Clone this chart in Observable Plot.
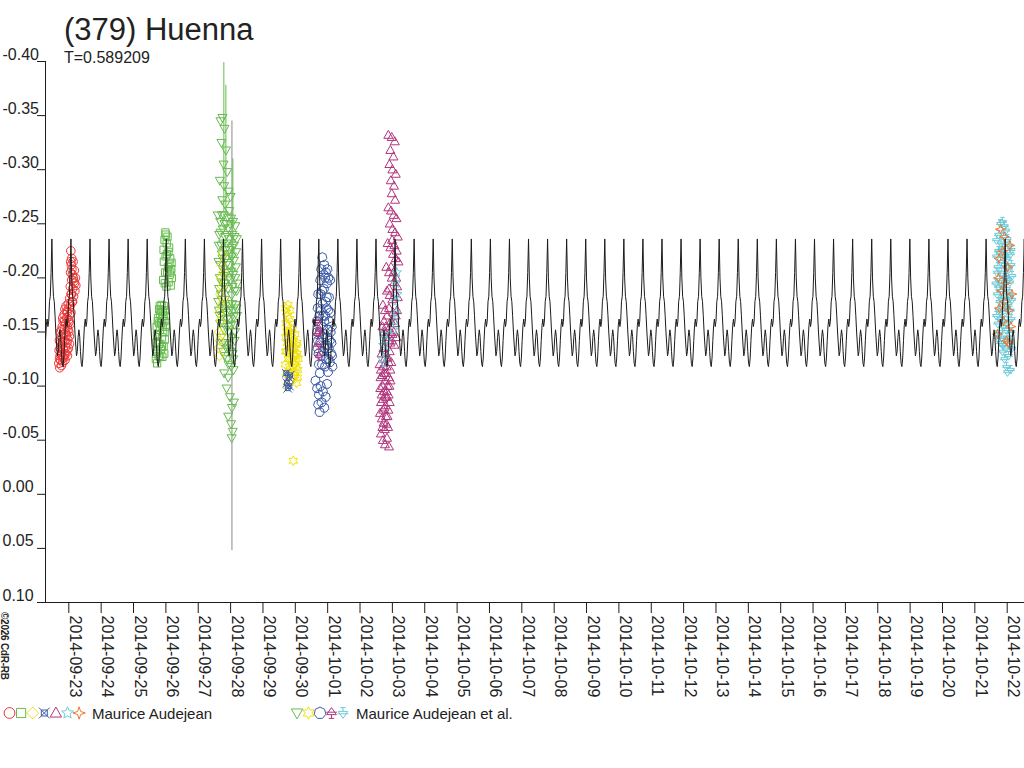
<!DOCTYPE html>
<html><head><meta charset="utf-8">
<script src="https://cdn.jsdelivr.net/npm/d3@7"></script>
<script src="https://cdn.jsdelivr.net/npm/@observablehq/plot@0.6"></script>
<style>
body{margin:0;background:#fff;}
#wrap{position:relative;width:1024px;height:768px;overflow:hidden;font-family:"Liberation Sans",Arial,sans-serif;background:#fff;}
#wrap svg{position:absolute;left:0;top:0;}
</style></head><body><div id="wrap"></div>
<script>
// ---------------- data ----------------
const title = "(379) Huenna";
const subtitle = "T=0.589209";
const copyright = "©2026 CdR-RB";
const periodDays = 0.589209;
const maxEpoch = "2014-10-04T06:16:00Z";           // a maximum of the model light curve
// one period of the model curve (24 equal phase steps, starting at the maximum)
const modelMag = [-0.236,-0.200,-0.183,-0.178,-0.165,-0.150,-0.138,-0.128,-0.132,-0.145,-0.152,-0.146,
                  -0.132,-0.121,-0.118,-0.126,-0.142,-0.156,-0.162,-0.155,-0.160,-0.178,-0.183,-0.205];
const xDomain = ["2014-09-22T06:43:00Z", "2014-10-22T12:50:00Z"];
const yDomain = [-0.40, 0.10];
const yTicks = [-0.40,-0.35,-0.30,-0.25,-0.20,-0.15,-0.10,-0.05,0.00,0.05,0.10];
const xTickLabels = ["2014-09-23","2014-09-24","2014-09-25","2014-09-26","2014-09-27","2014-09-28","2014-09-29",
  "2014-09-30","2014-10-01","2014-10-02","2014-10-03","2014-10-04","2014-10-05","2014-10-06","2014-10-07",
  "2014-10-08","2014-10-09","2014-10-10","2014-10-11","2014-10-12","2014-10-13","2014-10-14","2014-10-15",
  "2014-10-16","2014-10-17","2014-10-18","2014-10-19","2014-10-20","2014-10-21","2014-10-22"];
const observers = ["Maurice Audejean", "Maurice Audejean et al."];

// sessions: [hours after base, relative magnitude]
const audejean1Base = "2014-09-22T16:00:00Z";
const audejean1 = [[0.6,-0.121],[0.8,-0.133],[1.0,-0.142],[1.3,-0.117],[1.5,-0.128],[1.7,-0.150],[2.0,-0.124],[2.2,-0.137],
  [2.4,-0.146],[2.6,-0.119],[2.9,-0.131],[3.1,-0.155],[3.3,-0.140],[3.6,-0.127],[3.8,-0.160],[4.0,-0.134],[4.2,-0.148],
  [4.5,-0.166],[4.7,-0.129],[4.9,-0.153],[5.1,-0.171],[5.3,-0.142],[5.6,-0.136],[5.8,-0.158],[6.0,-0.174],[6.2,-0.147],
  [6.5,-0.163],[6.7,-0.133],[6.9,-0.155],[7.1,-0.168],[7.3,-0.143],[7.6,-0.176],[7.8,-0.161],[8.0,-0.150],[8.2,-0.172],
  [8.5,-0.139],[8.7,-0.181],[8.9,-0.157],[9.1,-0.192],[9.3,-0.205],[9.5,-0.225],[9.7,-0.185],[9.9,-0.212],[10.1,-0.198],
  [10.4,-0.178],[10.6,-0.203],[10.9,-0.190],[11.2,-0.215],[11.5,-0.183],[11.8,-0.197],[12.1,-0.207],[12.5,-0.188],
  [12.9,-0.200],[13.2,-0.193],
  [1.1,-0.125],[1.9,-0.140],[2.7,-0.152],[3.4,-0.122],[3.5,-0.163],[4.1,-0.126],[4.4,-0.141],[4.8,-0.160],[5.2,-0.124],
  [5.5,-0.149],[5.9,-0.130],[6.3,-0.169],[6.6,-0.140],[7.0,-0.128],[7.4,-0.152],[7.7,-0.135],[8.1,-0.159],[8.4,-0.146],
  [8.8,-0.166],[9.2,-0.175],[9.6,-0.168],[10.0,-0.185],[10.3,-0.208],[10.8,-0.178],[11.4,-0.200],[12.3,-0.195],
  [9.4,-0.215],[10.2,-0.218],[1.6,-0.135],[2.3,-0.129]];
const audejean2Base = "2014-09-25T16:00:00Z";
const audejean2 = [[0.6,-0.125],[0.9,-0.140],[1.2,-0.155],[1.5,-0.121],[1.8,-0.132],[2.1,-0.148],[2.4,-0.163],[2.7,-0.128],
  [3.0,-0.171],[3.3,-0.139],[3.6,-0.152],[3.9,-0.166],[4.2,-0.134],[4.5,-0.158],[4.8,-0.175],[5.1,-0.145],[5.4,-0.127],
  [5.7,-0.169],[6.0,-0.150],[6.3,-0.137],[6.6,-0.174],[6.9,-0.160],[7.2,-0.143],[7.5,-0.170],[7.8,-0.155],
  [0.8,-0.130],[1.4,-0.147],[2.0,-0.160],[2.6,-0.139],[3.2,-0.158],[3.8,-0.127],[4.4,-0.170],[5.0,-0.136],[5.6,-0.155],
  [6.2,-0.165],[6.8,-0.130],[7.4,-0.150],[7.9,-0.165],[3.5,-0.174],[5.3,-0.162],
  [6.0,-0.198],[6.5,-0.215],[7.0,-0.235],[7.5,-0.205],[8.0,-0.240],[8.4,-0.192],[8.8,-0.222],[9.2,-0.238],[9.6,-0.210],
  [10.0,-0.196],[10.4,-0.228],[10.8,-0.203],[11.2,-0.218],[11.6,-0.193],[12.0,-0.208],[12.4,-0.200],
  [6.3,-0.226],[7.2,-0.195],[7.8,-0.220],[8.6,-0.232],[9.0,-0.205],[9.9,-0.224],[10.6,-0.213],[11.4,-0.205],
  [12.2,-0.214],[7.6,-0.242]];
const audejean3Base = "2014-09-27T12:00:00Z";
const audejean3 = [[3.1,-0.135],[3.4,-0.150],[3.7,-0.168],[4.0,-0.142],[4.3,-0.185],[4.6,-0.160],[4.9,-0.200],[5.2,-0.175],
  [5.5,-0.212],[5.8,-0.192],[6.1,-0.222],[6.4,-0.205],[6.7,-0.180],[3.6,-0.128],[5.0,-0.147]];
const audejean4Base = "2014-09-29T12:00:00Z";
const audejean4 = [[5.3,-0.112],[5.8,-0.103],[6.4,-0.098],[7.0,-0.108],[7.6,-0.100],[8.2,-0.110]];
const audejean5Base = "2014-10-02T12:00:00Z";
const audejean5 = [[9.0,-0.332],[11.5,-0.330],[13.8,-0.326],[10.5,-0.318],[12.8,-0.312],[9.8,-0.305],[12.0,-0.300],
  [14.5,-0.296],[10.8,-0.290],[13.2,-0.285],[11.5,-0.278],[14.0,-0.272],
  [9.0,-0.265],[11.0,-0.262],[13.0,-0.258],[15.0,-0.255],[10.0,-0.250],[12.0,-0.245],[14.0,-0.242],[16.0,-0.238],
  [8.5,-0.232],[10.5,-0.228],[12.5,-0.222],[14.5,-0.218],[16.5,-0.215],[7.5,-0.210],[9.5,-0.205],[11.5,-0.200],
  [13.5,-0.196],[15.5,-0.192],[8.0,-0.188],[10.0,-0.184],[12.0,-0.180],[14.0,-0.186],[16.0,-0.182],
  [5.0,-0.175],[6.5,-0.170],[8.0,-0.165],[9.5,-0.172],[11.0,-0.160],[12.5,-0.168],[14.0,-0.158],[15.5,-0.170],
  [4.6,-0.155],[6.0,-0.150],[7.5,-0.145],[9.0,-0.152],[10.5,-0.140],[12.0,-0.148],[13.5,-0.138],[15.0,-0.145],
  [5.5,-0.135],[7.0,-0.130],[8.5,-0.126],[10.0,-0.132],
  [2.5,-0.120],[3.5,-0.115],[4.5,-0.110],[5.5,-0.118],[6.5,-0.105],[7.5,-0.112],[8.5,-0.100],[9.5,-0.108],
  [10.5,-0.115],[11.2,-0.122],[3.0,-0.098],[4.0,-0.092],[5.0,-0.088],[6.0,-0.095],[7.0,-0.082],[8.0,-0.090],
  [9.0,-0.078],[10.0,-0.085],[2.8,-0.075],[4.2,-0.070],[5.5,-0.066],[7.2,-0.072],[8.8,-0.062],[6.4,-0.060],
  [3.5,-0.056],[5.0,-0.050],[6.5,-0.046],[8.0,-0.052],[9.5,-0.044],
  [5.8,-0.160],[7.2,-0.155],[8.8,-0.142],[10.2,-0.150],[11.6,-0.142],[13.0,-0.150],[14.5,-0.165],[6.2,-0.125],
  [7.8,-0.118],[9.2,-0.122],[4.0,-0.130],[3.2,-0.108],[4.8,-0.100],[6.2,-0.112],[7.8,-0.095],[9.8,-0.100],
  [3.6,-0.085],[5.2,-0.078],[6.8,-0.090],[8.4,-0.072],[4.6,-0.062],[6.0,-0.080],[7.6,-0.065],[9.2,-0.092],
  [10.6,-0.105],[9.5,-0.190],[11.0,-0.210],[12.8,-0.205],[14.8,-0.200],[13.5,-0.230],[15.2,-0.225],[11.8,-0.235]];
const audejean6Base = "2014-10-02T12:00:00Z";
const audejean6 = [[4.6,-0.125],[5.2,-0.138],[5.8,-0.148],[6.4,-0.121],[7.0,-0.132],[7.8,-0.142],[13.6,-0.160],
  [14.0,-0.178],[14.4,-0.195],[14.8,-0.168],[15.2,-0.205],[15.6,-0.185],[12.8,-0.152]];
const audejean7Base = "2014-10-21T12:00:00Z";
const audejean7 = [[4.8,-0.148],[5.5,-0.200],[6.2,-0.172],[7.0,-0.245],[7.8,-0.188],[8.6,-0.225],[9.2,-0.160],
  [10.0,-0.238],[10.8,-0.195],[11.6,-0.142],[12.4,-0.210],[13.2,-0.170],[14.0,-0.230],[14.8,-0.155],[15.5,-0.185],
  [6.0,-0.218],[9.8,-0.178],[12.8,-0.140]];
const etal1Base = "2014-09-27T12:00:00Z";
const etal1 = [[4.5,-0.345],[6.0,-0.348],[7.5,-0.338],[5.2,-0.325],[8.6,-0.318],[6.8,-0.305],[9.5,-0.298],[4.0,-0.290],
  [7.2,-0.285],[10.5,-0.280],[5.8,-0.272],[8.0,-0.268],[12.0,-0.275],[11.0,-0.262],
  [2.5,-0.258],[3.5,-0.240],[4.3,-0.252],[5.0,-0.230],[6.2,-0.245],[7.0,-0.258],[7.8,-0.238],[8.8,-0.250],[9.6,-0.232],
  [10.3,-0.246],[11.2,-0.226],[12.4,-0.255],[13.3,-0.240],[14.5,-0.230],[15.5,-0.248],[16.6,-0.236],[3.0,-0.215],
  [4.0,-0.200],[5.5,-0.222],[6.5,-0.208],[7.5,-0.195],[8.5,-0.218],[9.2,-0.205],[10.0,-0.190],[11.0,-0.212],
  [12.0,-0.198],[13.0,-0.220],[14.0,-0.203],[15.0,-0.188],[16.0,-0.210],[17.0,-0.195],[2.8,-0.178],[3.8,-0.165],
  [4.8,-0.185],[5.8,-0.172],[6.8,-0.158],[7.8,-0.180],[8.8,-0.168],[9.8,-0.155],[10.8,-0.176],[11.8,-0.162],
  [12.8,-0.184],[13.8,-0.170],[14.8,-0.157],[15.8,-0.175],[16.8,-0.165],
  [5.0,-0.145],[6.5,-0.132],[8.0,-0.140],[9.5,-0.125],[11.0,-0.138],[12.5,-0.118],[13.5,-0.130],[15.0,-0.142],
  [7.2,-0.112],[10.2,-0.108],[14.2,-0.115],
  [9.0,-0.098],[11.5,-0.090],[13.0,-0.080],[10.2,-0.072],[12.3,-0.065],[14.5,-0.085],[13.6,-0.058],[12.8,-0.052],
  [3.2,-0.230],[4.6,-0.242],[5.6,-0.258],[6.6,-0.232],[7.4,-0.250],[8.2,-0.226],[9.0,-0.240],[9.9,-0.256],[10.8,-0.236],
  [11.6,-0.250],[12.8,-0.228],[13.8,-0.252],[15.0,-0.238],[16.2,-0.224],[3.4,-0.190],[4.4,-0.212],[5.2,-0.196],
  [6.0,-0.218],[7.0,-0.202],[8.0,-0.192],[9.6,-0.214],[10.5,-0.200],[11.5,-0.222],[12.5,-0.206],[13.5,-0.192],
  [14.5,-0.216],[15.5,-0.200],[16.5,-0.188],[3.3,-0.170],[4.3,-0.158],[5.3,-0.180],[6.3,-0.166],[7.3,-0.152],
  [8.3,-0.174],[9.3,-0.162],[10.3,-0.150],[11.3,-0.170],[12.3,-0.156],[13.3,-0.176],[14.3,-0.164],[15.3,-0.150],
  [16.3,-0.172],[6.0,-0.140],[7.5,-0.128],[9.0,-0.135],[10.5,-0.120],[12.0,-0.132],[13.0,-0.145],[14.0,-0.125]];
// error bars of that session: [hours, low, high]
const etal1Errors = [[7.0,-0.399,-0.26],[8.5,-0.378,-0.26],[13.7,-0.310,-0.20]];
const etal1WideError = [[13.0,-0.345,0.052]];
const etal2Base = "2014-09-29T12:00:00Z";
const etal2 = [[4.6,-0.120],[5.0,-0.145],[5.4,-0.168],[5.8,-0.132],[6.2,-0.155],[6.6,-0.175],[7.0,-0.110],[7.4,-0.140],
  [7.8,-0.162],[8.2,-0.125],[8.6,-0.148],[9.0,-0.105],[9.4,-0.135],[9.8,-0.152],[10.2,-0.118],[10.6,-0.142],
  [11.0,-0.128],[11.4,-0.110],[11.8,-0.148],[12.2,-0.122],[12.6,-0.138],[13.0,-0.103],[13.4,-0.130],[13.8,-0.115],
  [14.2,-0.125],[10.5,-0.031],[6.0,-0.100],[8.0,-0.170],
  [4.8,-0.132],[5.2,-0.158],[5.6,-0.112],[6.0,-0.140],[6.4,-0.165],[6.8,-0.125],[7.2,-0.150],[7.6,-0.118],
  [8.4,-0.138],[8.8,-0.112],[9.2,-0.145],[9.6,-0.125],[10.0,-0.140],[10.4,-0.108],[10.8,-0.130],[11.2,-0.120],
  [11.6,-0.135],[12.0,-0.112],[12.4,-0.128],[12.8,-0.118],[13.2,-0.140],[13.6,-0.108],[5.0,-0.172],[5.8,-0.150]];
const etal3Base = "2014-09-30T12:00:00Z";
const etal3 = [[8.0,-0.219],[9.5,-0.212],[10.8,-0.205],[12.5,-0.200],
  [4.0,-0.160],[4.5,-0.135],[5.0,-0.185],[5.5,-0.120],[6.0,-0.150],[6.5,-0.198],[7.0,-0.170],[7.5,-0.128],[8.0,-0.188],
  [8.5,-0.145],[9.0,-0.203],[9.5,-0.160],[10.0,-0.118],[10.5,-0.178],[11.0,-0.138],[11.5,-0.195],[12.0,-0.152],
  [12.5,-0.125],[13.0,-0.182],[13.5,-0.142],[14.0,-0.168],[14.5,-0.130],[15.0,-0.155],[15.5,-0.118],[6.2,-0.112],
  [8.8,-0.165],[11.2,-0.172],[13.8,-0.198],[4.8,-0.142],[7.2,-0.208],[9.8,-0.135],[12.2,-0.113],
  [3.0,-0.105],[4.2,-0.098],[5.5,-0.092],[6.8,-0.100],[7.5,-0.085],[8.5,-0.095],[9.5,-0.080],[10.5,-0.090],
  [11.5,-0.102],[6.0,-0.076],[5.0,-0.083],
  [4.2,-0.150],[4.6,-0.172],[5.2,-0.130],[5.8,-0.165],[6.4,-0.140],[6.8,-0.185],[7.4,-0.155],[7.8,-0.120],
  [8.2,-0.176],[8.6,-0.132],[9.2,-0.190],[9.6,-0.148],[10.2,-0.165],[10.8,-0.125],[11.4,-0.182],[11.8,-0.145],
  [12.4,-0.170],[12.8,-0.135],[13.2,-0.160],[13.6,-0.122],[14.2,-0.150],[14.8,-0.140],[15.2,-0.128],[10.2,-0.200],
  [11.8,-0.208]];
const etal4Base = "2014-09-30T12:00:00Z";
const etal4 = [[4.0,-0.160],[4.5,-0.148],[5.0,-0.138],[5.5,-0.128],[6.0,-0.152]];
const etal5Base = "2014-10-21T12:00:00Z";
const etal5 = [[7.0,-0.250],[8.5,-0.252],[10.0,-0.248],[11.0,-0.244],
  [4.0,-0.235],[5.5,-0.240],[7.5,-0.232],[9.5,-0.238],[12.0,-0.236],[13.5,-0.230],[15.0,-0.226],
  [4.0,-0.220],[5.0,-0.210],[6.0,-0.225],[7.0,-0.215],[8.0,-0.205],[9.0,-0.222],[10.0,-0.212],[11.0,-0.200],
  [12.0,-0.218],[13.0,-0.208],[14.0,-0.196],[15.0,-0.212],[15.6,-0.202],
  [3.5,-0.195],[4.5,-0.185],[5.5,-0.192],[6.5,-0.178],[7.5,-0.188],[8.5,-0.172],[9.5,-0.182],[10.5,-0.168],
  [11.5,-0.190],[12.5,-0.176],[13.5,-0.185],[14.5,-0.170],[15.5,-0.180],
  [4.0,-0.165],[5.0,-0.158],[6.0,-0.150],[7.0,-0.162],[8.0,-0.145],[9.0,-0.155],[10.0,-0.140],[11.0,-0.152],
  [12.0,-0.145],[13.0,-0.160],[14.0,-0.142],[15.0,-0.150],
  [8.5,-0.132],[10.0,-0.125],[11.5,-0.118],[13.0,-0.128],[14.5,-0.115],[12.2,-0.113],[15.5,-0.135],
  [4.5,-0.205],[5.5,-0.225],[6.5,-0.198],[8.0,-0.228],[9.0,-0.192],[10.5,-0.220],[12.5,-0.198],[14.5,-0.222],
  [6.0,-0.170],[8.0,-0.180],[10.0,-0.160],[12.0,-0.172],[14.0,-0.182],[5.0,-0.145],[7.0,-0.140],[9.0,-0.138],
  [11.0,-0.135],[13.0,-0.140],[15.0,-0.162]];

// ---------------- styles ----------------
const C = {red:"#ee3535", green:"#66bb4e", yellow:"#f2e20c", blue:"#3d5ca8", magenta:"#b3347c", cyan:"#6ccbd8", orange:"#f27530", line:"#1c1c1c", gray:"#8a8a8a", text:"#222"};
const rad = s => Math.sqrt(s / Math.PI);
const symCircle = {draw(c,s){const r=rad(s); c.moveTo(r,0); c.arc(0,0,r,0,2*Math.PI);}};
const symSquare = {draw(c,s){const h=rad(s)*0.85; c.moveTo(-h,-h); c.lineTo(h,-h); c.lineTo(h,h); c.lineTo(-h,h); c.closePath();}};
const symDiamond = {draw(c,s){const r=rad(s)*1.1; c.moveTo(0,-r); c.lineTo(r,0); c.lineTo(0,r); c.lineTo(-r,0); c.closePath();}};
const symSquareX = {draw(c,s){const r=rad(s), h=r*0.55; c.moveTo(-h,-h); c.lineTo(h,-h); c.lineTo(h,h); c.lineTo(-h,h); c.closePath();
  c.moveTo(-r,-r); c.lineTo(r,r); c.moveTo(r,-r); c.lineTo(-r,r);}};
const symTriUp = {draw(c,s){const r=rad(s); c.moveTo(0,-r*1.1); c.lineTo(r*1.05,r*0.75); c.lineTo(-r*1.05,r*0.75); c.closePath();}};
const symTriDown = {draw(c,s){const r=rad(s); c.moveTo(-r*1.05,-r*0.75); c.lineTo(r*1.05,-r*0.75); c.lineTo(0,r*1.1); c.closePath();}};
function starPath(c, n, r, ri){for(let i=0;i<2*n;i++){const a=-Math.PI/2+i*Math.PI/n, rr=i%2?ri:r; const x=rr*Math.cos(a), y=rr*Math.sin(a); i?c.lineTo(x,y):c.moveTo(x,y);} c.closePath();}
const symStar5 = {draw(c,s){const r=rad(s)*1.15; starPath(c,5,r,r*0.45);}};
const symStar4 = {draw(c,s){const r=rad(s)*1.15; starPath(c,4,r,r*0.35);}};
const symStar6 = {draw(c,s){const r=rad(s)*1.15; starPath(c,6,r,r*0.55);}};
const symPentagon = {draw(c,s){const r=rad(s)*1.1; for(let i=0;i<7;i++){const a=-Math.PI/2+i*2*Math.PI/7; const x=r*Math.cos(a), y=r*Math.sin(a); i?c.lineTo(x,y):c.moveTo(x,y);} c.closePath();}};
const symTriStem = {draw(c,s){const r=rad(s); c.moveTo(0,-r); c.lineTo(r*0.9,r*0.3); c.lineTo(-r*0.9,r*0.3); c.closePath();
  c.moveTo(-r,-r*0.15); c.lineTo(r,-r*0.15); c.moveTo(0,r*0.3); c.lineTo(0,r); c.moveTo(-r*0.5,r); c.lineTo(r*0.5,r);}};
const symTriDownStem = {draw(c,s){const r=rad(s); c.moveTo(-r*0.9,-r*0.3); c.lineTo(r*0.9,-r*0.3); c.lineTo(0,r); c.closePath();
  c.moveTo(-r,r*0.15); c.lineTo(r,r*0.15); c.moveTo(0,-r*0.3); c.lineTo(0,-r); c.moveTo(-r*0.5,-r); c.lineTo(r*0.5,-r);}};

// sessions table (drawing order)
const sessions = [
  {pts: audejean1, base: audejean1Base, color: C.red, sym: symCircle},
  {pts: audejean2, base: audejean2Base, color: C.green, sym: symSquare},
  {pts: etal1, base: etal1Base, color: C.green, sym: symTriDown},
  {pts: audejean3, base: audejean3Base, color: C.yellow, sym: symDiamond},
  {pts: etal2, base: etal2Base, color: C.yellow, sym: symStar6},
  {pts: audejean4, base: audejean4Base, color: C.blue, sym: symSquareX},
  {pts: etal3, base: etal3Base, color: C.blue, sym: symPentagon},
  {pts: etal4, base: etal4Base, color: C.magenta, sym: symTriStem},
  {pts: audejean5, base: audejean5Base, color: C.magenta, sym: symTriUp},
  {pts: audejean6, base: audejean6Base, color: C.cyan, sym: symStar5},
  {pts: etal5, base: etal5Base, color: C.cyan, sym: symTriDownStem},
  {pts: audejean7, base: audejean7Base, color: C.orange, sym: symStar4}
];
const legend1 = [[symCircle,C.red],[symSquare,C.green],[symDiamond,C.yellow],[symSquareX,C.blue],[symTriUp,C.magenta],[symStar5,C.cyan],[symStar4,C.orange]];
const legend2 = [[symTriDown,C.green],[symStar6,C.yellow],[symPentagon,C.blue],[symTriStem,C.magenta],[symTriDownStem,C.cyan]];

// ---------------- build ----------------
const at = (base, h) => new Date(new Date(base).getTime() + h * 3600e3);
const t0 = new Date(maxEpoch).getTime(), P = periodDays * 864e5;
const xd = xDomain.map(s => new Date(s));
const k0 = Math.floor((xd[0] - t0) / P) - 1, k1 = Math.ceil((xd[1] - t0) / P) + 1;
const model = [];
for (let k = k0; k <= k1; k++) modelMag.forEach((m, i) => model.push({t: new Date(t0 + (k + i / modelMag.length) * P), m}));
const xTicks = xTickLabels.map(s => new Date(s + "T00:00:00Z"));

const dotMarks = sessions.map(s => Plot.dot(s.pts.map(([h, m]) => ({t: at(s.base, h), m})),
  {x: "t", y: "m", symbol: s.sym, r: 4.3, stroke: s.color, fill: "none", strokeWidth: 1}));
const toErr = arr => arr.map(([h, lo, hi]) => ({t: at(etal1Base, h), lo, hi}));

const chart = Plot.plot({
  width: 1024, height: 768,
  marginLeft: 45, marginRight: 0, marginTop: 61, marginBottom: 166,
  style: {background: "white", color: C.text, fontFamily: "'Liberation Sans', Arial, sans-serif", fontSize: "16px", overflow: "visible"},
  x: {type: "utc", domain: xd, axis: null},
  y: {domain: yDomain, reverse: true, axis: null},
  marks: [
    Plot.ruleX(toErr(etal1WideError), {x: "t", y1: "lo", y2: "hi", stroke: C.gray, strokeWidth: 1}),
    ...dotMarks,
    Plot.ruleX(toErr(etal1Errors), {x: "t", y1: "lo", y2: "hi", stroke: C.green, strokeWidth: 1}),
    Plot.line(model, {x: "t", y: "m", stroke: C.line, strokeWidth: 1, clip: true}),
    Plot.ruleX([xd[0]], {stroke: C.line, strokeWidth: 1}),
    Plot.ruleY([yDomain[1]], {stroke: C.line, strokeWidth: 1}),
    Plot.axisY(yTicks, {anchor: "left", tickSize: 8, tickFormat: () => "", label: null, stroke: C.line}),
    Plot.axisX(xTicks, {anchor: "bottom", tickSize: 11, tickFormat: () => "", label: null, stroke: C.line}),
    Plot.text(yTicks, {y: d => d, text: d => d.toFixed(2), frameAnchor: "left", textAnchor: "start", lineAnchor: "bottom", dx: -43, dy: -2, fontSize: 16, fill: C.text}),
    Plot.text(xTicks, {x: d => d, text: (d, i) => xTickLabels[i], frameAnchor: "bottom", rotate: 90, textAnchor: "start", lineAnchor: "bottom", dx: 1, dy: 13, fontSize: 16, fill: C.text})
  ]
});
const wrap = document.getElementById("wrap");
wrap.appendChild(chart);

// overlay: title, subtitle, legend, copyright
const ov = d3.select(wrap).append("svg").attr("width", 1024).attr("height", 768)
  .style("pointer-events", "none").attr("font-family", "'Liberation Sans', Arial, sans-serif").attr("fill", C.text);
ov.append("text").attr("x", 64).attr("y", 40).attr("font-size", 31).text(title);
ov.append("text").attr("x", 64).attr("y", 63).attr("font-size", 16).text(subtitle);
ov.append("text").attr("transform", "translate(1,612) rotate(90)").attr("font-size", 10).attr("font-weight", "bold")
  .attr("textLength", 68).attr("lengthAdjust", "spacing").text(copyright);
const sz = Math.PI * 5.4 * 5.4;
legend1.forEach(([sym, col], i) => ov.append("path").attr("transform", `translate(${9.5 + i * 11.6},713)`)
  .attr("d", d3.symbol(sym, sz)()).attr("fill", "none").attr("stroke", col));
ov.append("text").attr("x", 92).attr("y", 719).attr("font-size", 15).text(observers[0]);
legend2.forEach(([sym, col], i) => ov.append("path").attr("transform", `translate(${297 + i * 11.5},713)`)
  .attr("d", d3.symbol(sym, sz)()).attr("fill", "none").attr("stroke", col));
ov.append("text").attr("x", 356).attr("y", 719).attr("font-size", 15).text(observers[1]);
</script></body></html>
